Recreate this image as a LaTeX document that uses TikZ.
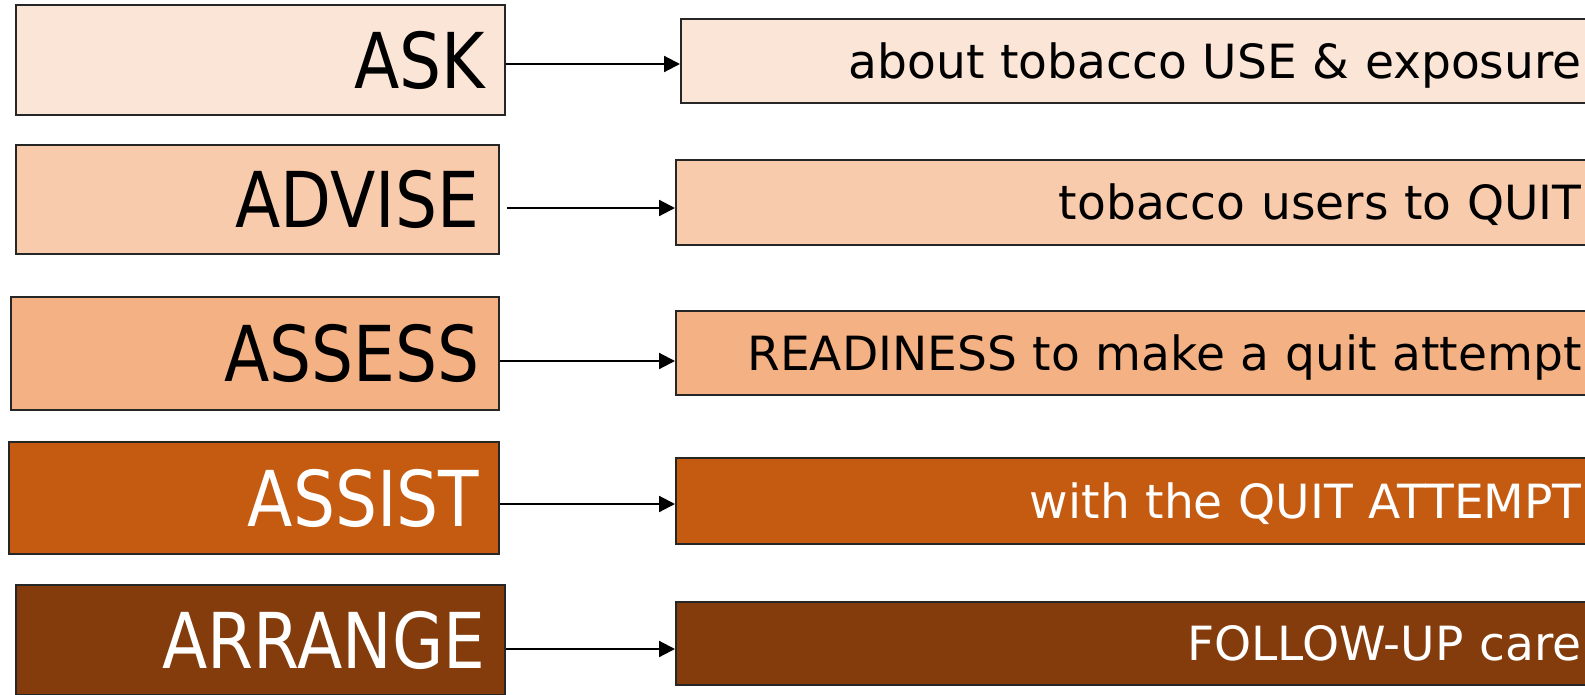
\documentclass[tikz,border=0pt]{standalone}
\usepackage{fontspec}
\setmainfont{DejaVu Sans}
\usepackage{graphicx}
\usepackage{xcolor}
\usetikzlibrary{arrows.meta}
\definecolor{askfill}{HTML}{FBE5D6}
\definecolor{advisefill}{HTML}{F8CBAD}
\definecolor{assessfill}{HTML}{F4B183}
\definecolor{assistfill}{HTML}{C55A11}
\definecolor{arrangefill}{HTML}{843C0C}
\newcommand{\narrow}[1]{\scalebox{0.86}[1]{#1}}
\tikzset{word/.style={draw=black!85, line width=0.6pt, anchor=west, align=right,
   inner xsep=0.2cm, inner ysep=0pt, text height=16pt, text depth=0pt,
   font=\fontsize{21.9}{26}\selectfont},
 note/.style={draw=black!85, line width=0.6pt, anchor=west, align=right,
   inner xsep=0.3cm, inner ysep=0pt, text width=8.75cm, text height=9.8pt, text depth=0pt,
   font=\fontsize{13.4}{16}\selectfont},
 link/.style={line width=0.6pt, -{Triangle[length=4.5pt,width=4.5pt]}},
 }
\begin{document}
\begin{tikzpicture}[x=0.01cm,y=-0.01cm]
    \useasboundingbox (0,0) rectangle (1585,694);
    \clip (0,0) rectangle (1585,694);
        % left column
        \node[word, fill=askfill, text width=4.49cm, minimum height=1.10cm] (ask) at (15,60) {\narrow{ASK}};
        \node[word, fill=advisefill, text width=4.43cm, minimum height=1.09cm] (advise) at (15,199.5) {\narrow{ADVISE}};
        \node[word, fill=assessfill, text width=4.48cm, minimum height=1.13cm] (assess) at (10,353.5) {\narrow{ASSESS}};
        \node[word, fill=assistfill, text=white, text width=4.50cm, minimum height=1.12cm] (assist) at (8,498) {\narrow{ASSIST}};
        \node[word, fill=arrangefill, text=white, text width=4.49cm, minimum height=1.10cm] (arrange) at (15,640) {\narrow{ARRANGE}};
        % right column
        \node[note, fill=askfill, text width=8.70cm, minimum height=0.84cm] (use) at (680,61) {about tobacco USE \& exposure};
        \node[note, fill=advisefill, minimum height=0.85cm] (quit) at (675,202.5) {tobacco users to QUIT};
        \node[note, fill=assessfill, minimum height=0.84cm] (ready) at (675,353) {READINESS to make a quit attempt};
        \node[note, fill=assistfill, text=white, minimum height=0.86cm] (attempt) at (675,501) {with the QUIT ATTEMPT};
        \node[note, fill=arrangefill, text=white, minimum height=0.83cm] (follow) at (675,643.5) {FOLLOW-UP care};
        % arrows
        \draw[link] (ask.east |- 0,64) -- (use.west |- 0,64);
        \draw[link, shorten <=2pt] (advise.east |- 0,208) -- (quit.west |- 0,208);
        \draw[link] (assess.east |- 0,361) -- (ready.west |- 0,361);
        \draw[link] (assist.east |- 0,504) -- (attempt.west |- 0,504);
        \draw[link] (arrange.east |- 0,649) -- (follow.west |- 0,649);
    \end{tikzpicture}
\end{document}
